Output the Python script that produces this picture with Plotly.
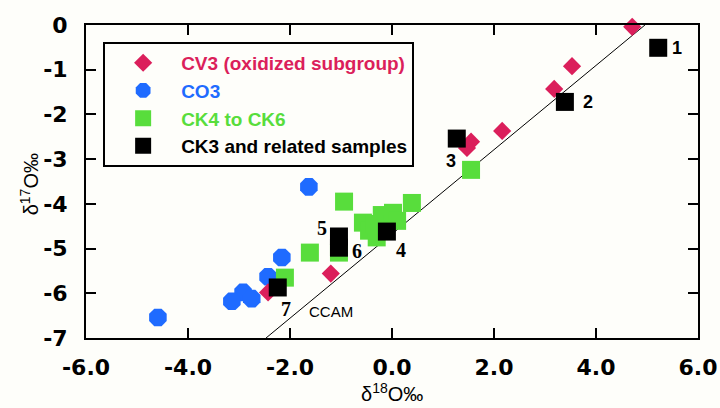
import plotly.graph_objects as go

# ---- data ----
cv3_x = [4.71, 3.53, 3.18, 2.16, 1.55, 1.47, -1.20, -2.43]
cv3_y = [-0.04, -0.92, -1.43, -2.37, -2.61, -2.75, -5.56, -5.98]

co3_x = [-1.63, -2.16, -2.43, -2.92, -2.75, -3.14, -4.59]
co3_y = [-3.62, -5.20, -5.63, -5.98, -6.12, -6.18, -6.54]

ck46_x = [1.55, -0.94, 0.39, -0.57, -0.45, -0.30, -0.20, 0.02, -0.35, 0.10, -1.04, -1.61, -2.10]
ck46_y = [-3.24, -3.95, -3.98, -4.42, -4.60, -4.75, -4.25, -4.20, -4.45, -4.38, -5.09, -5.09, -5.65]

ck3_x = [5.22, 3.39, 1.27, -0.10, -1.04, -1.04, -2.24]
ck3_y = [-0.51, -1.72, -2.54, -4.62, -4.73, -4.98, -5.87]
ck3_labels = ["1", "2", "3", "4", "5", "6", "7"]

ccam_x = [-2.47, 4.96]
ccam_y = [-7.0, 0.0]

x_ticks = [-6, -4, -2, 0, 2, 4, 6]
x_ticktext = ["-6.0", "-4.0", "-2.0", "0.0", "2.0", "4.0", "6.0"]
y_ticks = [0, -1, -2, -3, -4, -5, -6, -7]
y_ticktext = ["0", "-1", "-2", "-3", "-4", "-5", "-6", "-7"]

# ---- styles ----
C_CV3 = "#DB1F5B"
C_CO3 = "#1F6BFF"
C_CK46 = "#58DD3C"
C_CK3 = "#000000"
BG = "#FEFEFA"

# label offsets in px (dx, dy) relative to each CK3 point, dy positive = up
lab_dx = [19, 23, -6, 14, -17, 18, 8]
lab_dy = [0, 0, -22, -18, 9, -3, -22]
lab_font = ["Liberation Sans", "Liberation Sans", "Liberation Sans",
            "Liberation Serif", "Liberation Serif", "Liberation Serif", "Liberation Serif"]
lab_size = [18, 18, 18, 20, 20, 20, 20]

fig = go.Figure()

fig.add_trace(go.Scatter(
    x=ccam_x, y=ccam_y, mode="lines",
    line=dict(color="black", width=1), showlegend=False, hoverinfo="skip"))

fig.add_trace(go.Scatter(
    x=co3_x, y=co3_y, mode="markers",
    marker=dict(symbol="octagon", size=19, color=C_CO3, line=dict(width=0)),
    name=f"<span style='color:{C_CO3}'>CO3</span>", legendrank=2, cliponaxis=False))

fig.add_trace(go.Scatter(
    x=cv3_x, y=cv3_y, mode="markers",
    marker=dict(symbol="diamond", size=14, color=C_CV3, line=dict(width=0)),
    name=f"<span style='color:{C_CV3}'>CV3 (oxidized subgroup)</span>", legendrank=1, cliponaxis=False))

fig.add_trace(go.Scatter(
    x=ck46_x, y=ck46_y, mode="markers",
    marker=dict(symbol="square", size=18, color=C_CK46, line=dict(width=0)),
    name=f"<span style='color:{C_CK46}'>CK4 to CK6</span>", legendrank=3, cliponaxis=False))

fig.add_trace(go.Scatter(
    x=ck3_x, y=ck3_y, mode="markers",
    marker=dict(symbol="square", size=18, color=C_CK3, line=dict(width=0)),
    name="CK3 and related samples", legendrank=4, cliponaxis=False))

annotations = []
for xv, yv, t, dx, dy, fam, sz in zip(ck3_x, ck3_y, ck3_labels, lab_dx, lab_dy, lab_font, lab_size):
    annotations.append(dict(
        x=xv, y=yv, xref="x", yref="y", text=t, showarrow=False,
        xshift=dx, yshift=dy,
        font=dict(family=fam, size=sz, color="black", weight="bold"),
        xanchor="center", yanchor="middle"))

annotations.append(dict(
    x=-1.2, y=-6.4, xref="x", yref="y", text="CCAM", showarrow=False,
    font=dict(family="Liberation Sans", size=15, color="black"),
    xanchor="center", yanchor="middle"))

annotations.append(dict(
    x=0.5, y=-0.175, xref="paper", yref="paper", text="δ<sup>18</sup>O‰",
    showarrow=False, font=dict(family="Liberation Sans", size=20, color="black"),
    xanchor="center", yanchor="middle"))

annotations.append(dict(
    x=-0.092, y=0.49, xref="paper", yref="paper", text="δ<sup>17</sup>O‰",
    showarrow=False, textangle=-90,
    font=dict(family="Liberation Sans", size=20, color="black"),
    xanchor="center", yanchor="middle"))

tickfont = dict(family="DejaVu Sans", size=22, color="black", weight="bold")

fig.update_layout(
    width=720, height=408,
    margin=dict(l=86, r=22, t=25, b=70, autoexpand=False),
    paper_bgcolor=BG, plot_bgcolor=BG,
    showlegend=True,
    legend=dict(
        x=0.028, y=0.946, xanchor="left", yanchor="top",
        bgcolor=BG, bordercolor="black", borderwidth=2,
        font=dict(family="Liberation Sans", size=19, color="black", weight="bold"),
        itemwidth=66, traceorder="normal", itemsizing="trace"),
    annotations=annotations,
    xaxis=dict(
        range=[-6, 6], tickvals=x_ticks, ticktext=x_ticktext, automargin=False,
        showgrid=False, zeroline=False, showline=True, linecolor="black", linewidth=2,
        mirror="ticks", ticks="inside", ticklen=10, tickwidth=2, tickcolor="black",
        tickfont=tickfont, ticklabelstandoff=9),
    yaxis=dict(
        range=[-7, 0], tickvals=y_ticks, ticktext=y_ticktext, automargin=False,
        showgrid=False, zeroline=False, showline=True, linecolor="black", linewidth=2,
        mirror="ticks", ticks="inside", ticklen=10, tickwidth=2, tickcolor="black",
        tickfont=tickfont, ticklabelstandoff=12),
)

fig.write_html(
    "out.html",
    config={"displayModeBar": False},
    post_script="document.body.style.margin='0';document.body.style.overflow='hidden';")
